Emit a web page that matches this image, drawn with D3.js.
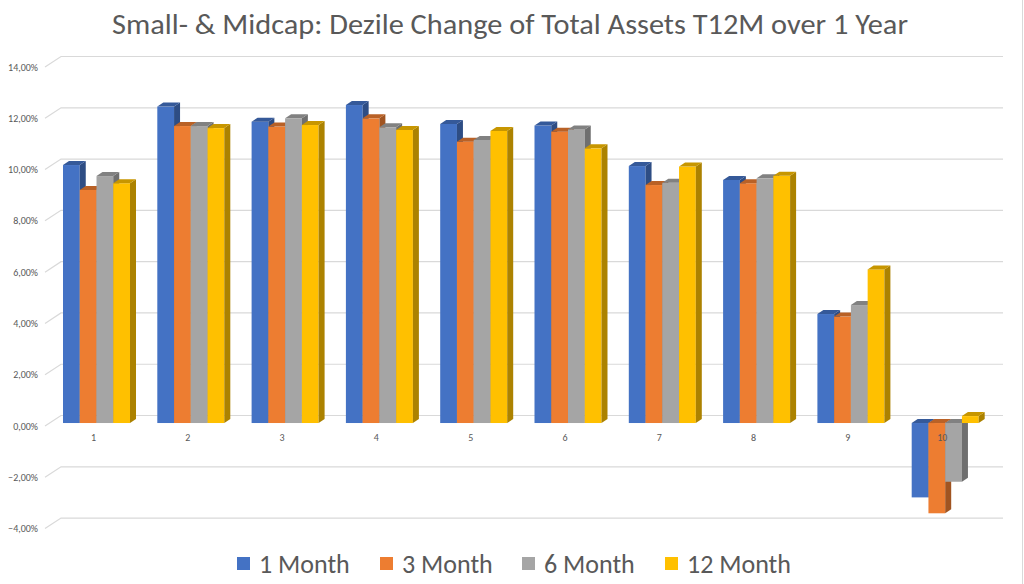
<!DOCTYPE html>
<meta charset="utf-8">
<style>
  body { margin: 0; background: #fff; }
  text { font-family: Calibri, Carlito, "Open Sans", sans-serif; fill: #595959; }
</style>
<body>
<script src="https://cdnjs.cloudflare.com/ajax/libs/d3/7.8.5/d3.min.js"></script>
<script>

// data (percent)
var categories = ['1', '2', '3', '4', '5', '6', '7', '8', '9', '10'];
var seriesNames = ['1 Month', '3 Month', '6 Month', '12 Month'];
var month1  = [10.06, 12.34, 11.75, 12.40, 11.66, 11.60, 10.02, 9.48, 4.25, -2.90];
var month3  = [9.09, 11.58, 11.56, 11.88, 10.97, 11.36, 9.28, 9.35, 4.15, -3.52];
var month6  = [9.63, 11.58, 11.88, 11.53, 11.04, 11.45, 9.37, 9.54, 4.60, -2.29];
var month12 = [9.35, 11.50, 11.62, 11.43, 11.39, 10.71, 10.00, 9.64, 5.99, 0.27];
var yTicks = [-4, -2, 0, 2, 4, 6, 8, 10, 12, 14];
var colors = ['#4472C4', '#ED7D31', '#A5A5A5', '#FFC000'];

var series = [month1, month3, month6, month12];

var width = 1024, height = 584;

var svg = d3.select('body').append('svg')
  .attr('width', width).attr('height', height);

// locale with comma decimal
var de = d3.formatLocale({ decimal: ',', thousands: '.', grouping: [3], currency: ['', '€'] });
var fmt = de.format('.2f');

// front plane scale, back wall and bars are shifted versions of it
var y = d3.scaleLinear().domain([-4, 14]).range([528.6, 67]);
var backShift = { x: 16, y: -10.5 };
var barShift = -3;
var depth = { x: 6, y: -4 };

var x0 = d3.scaleBand().domain(categories).range([49.35, 992.35])
  .paddingInner(0.2895).paddingOuter(0.1448);
var x1 = d3.scaleBand().domain(d3.range(series.length)).range([0, x0.bandwidth()]);

// title
svg.append('text')
  .attr('x', 510).attr('y', 34)
  .attr('text-anchor', 'middle')
  .attr('font-size', 28)
  .attr('textLength', 796).attr('lengthAdjust', 'spacingAndGlyphs')
  .text('Small- & Midcap: Dezile Change of Total Assets T12M over 1 Year');

// right border
svg.append('line')
  .attr('x1', 1022.5).attr('x2', 1022.5).attr('y1', 0).attr('y2', height)
  .attr('stroke', '#d9d9d9');

// gridlines
var grid = svg.append('g').attr('class', 'grid')
  .attr('fill', 'none').attr('stroke', '#d9d9d9').attr('stroke-width', 1.2);
yTicks.forEach(function (t) {
  var yf = y(t), yb = y(t) + backShift.y;
  grid.append('path')
    .attr('d', 'M45,' + yf + 'L' + (45 + backShift.x) + ',' + yb + 'L1003,' + yb);
});

svg.append('g').selectAll('text').data(yTicks).enter().append('text')
  .attr('x', 38).attr('y', function (d) { return y(d) + 3.5; })
  .attr('text-anchor', 'end')
  .attr('font-size', 10)
  .text(function (d) { return fmt(d) + '%'; });

// bars
var bars = svg.append('g').attr('class', 'bars');
categories.forEach(function (c, i) {
  series.forEach(function (s, j) {
    var v = s[i];
    var x = x0(c) + x1(j), w = x1.bandwidth();
    var yt = Math.min(y(v), y(0)) + barShift;
    var yb = Math.max(y(v), y(0)) + barShift;
    var col = d3.color(colors[j]);
    var g = bars.append('g');
    g.append('rect')
      .attr('x', x).attr('y', yt).attr('width', w).attr('height', yb - yt)
      .attr('fill', colors[j]);
    g.append('path')
      .attr('d', 'M' + (x + w) + ',' + yt + 'l' + depth.x + ',' + depth.y +
        'L' + (x + w + depth.x) + ',' + (yb + depth.y) + 'L' + (x + w) + ',' + yb + 'Z')
      .attr('fill', col.darker(1.1));
    g.append('path')
      .attr('d', 'M' + x + ',' + yt + 'L' + (x + w) + ',' + yt +
        'l' + depth.x + ',' + depth.y + 'L' + (x + depth.x) + ',' + (yt + depth.y) + 'Z')
      .attr('fill', col.darker(0.7));
  });
});

// category labels
svg.append('g').selectAll('text').data(categories).enter().append('text')
  .attr('x', function (d) { return x0(d) + x0.bandwidth() / 2 - 3; })
  .attr('y', 441)
  .attr('text-anchor', 'middle')
  .attr('font-size', 10)
  .text(function (d) { return d; });

// legend
var legend = svg.append('g').attr('class', 'legend');
var legendX = [237, 380, 522, 665];
seriesNames.forEach(function (name, j) {
  legend.append('rect')
    .attr('x', legendX[j]).attr('y', 557).attr('width', 13).attr('height', 13)
    .attr('fill', colors[j]);
  legend.append('text')
    .attr('x', legendX[j] + 22).attr('y', 572.5)
    .attr('font-size', 26)
    .text(name);
});

</script>
</body>
</html>
